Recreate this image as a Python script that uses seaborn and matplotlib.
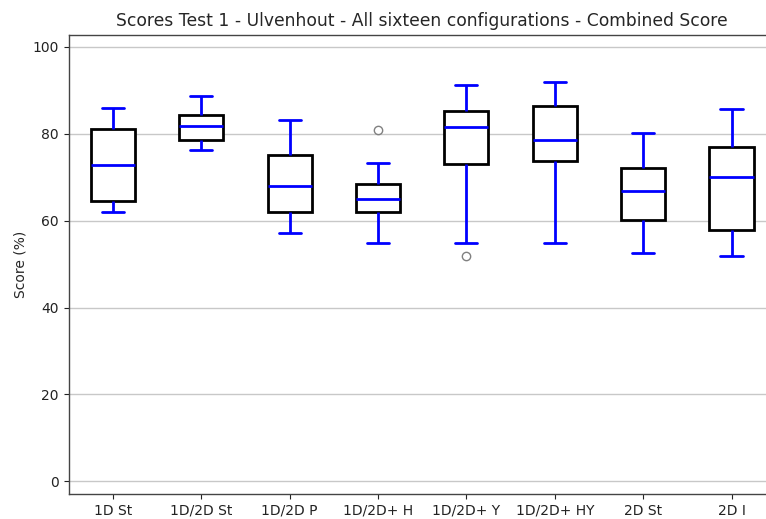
import numpy as np
import pandas as pd
import matplotlib
matplotlib.use("Agg")
import matplotlib.pyplot as plt
import seaborn as sns

# Configurations on the x axis
configs = ["1D St", "1D/2D St", "1D/2D P", "1D/2D+ H",
           "1D/2D+ Y", "1D/2D+ HY", "2D St", "2D I"]

# Five-number summaries of the combined score (%) per configuration
whisker_low = [62.1, 76.3, 57.2, 54.9, 54.9, 54.9, 52.6, 51.9]
q1 = [64.6, 78.5, 62.1, 62.1, 73.0, 73.7, 60.1, 57.8]
median = [72.7, 81.9, 67.9, 65.0, 81.6, 78.6, 66.9, 70.1]
q3 = [81.2, 84.4, 75.0, 68.5, 85.3, 86.3, 72.1, 77.0]
whisker_high = [86.0, 88.7, 83.2, 73.3, 91.3, 91.9, 80.2, 85.7]

# Scores outside the whiskers
outliers = [[], [], [], [80.8], [51.8], [], [], []]

# Nine scores per configuration: with numpy's linear percentiles the 3rd, 5th
# and 7th sorted values are the quartiles, the ends are whiskers / outliers.
rows = []
for i, cfg in enumerate(configs):
    low_out = [v for v in outliers[i] if v < whisker_low[i]]
    high_out = [v for v in outliers[i] if v > whisker_high[i]]
    if low_out:
        vals = low_out + [whisker_low[i], q1[i], median[i], median[i],
                          q3[i], q3[i], whisker_high[i], whisker_high[i]]
    elif high_out:
        vals = [whisker_low[i], q1[i], q1[i], median[i], median[i],
                q3[i], q3[i], whisker_high[i]] + high_out
    else:
        vals = [whisker_low[i], q1[i], q1[i], median[i], median[i],
                q3[i], q3[i], whisker_high[i], whisker_high[i]]
    rows += [{"config": cfg, "score": v} for v in vals]
df = pd.DataFrame(rows)

sns.set_style("white")
plt.rcParams.update({
    "font.family": ["DejaVu Sans"],
    "font.size": 10,
    "xtick.bottom": True,
    "ytick.left": True,
    "xtick.major.size": 3.5,
    "ytick.major.size": 3.5,
    "xtick.color": "#222222",
    "ytick.color": "#222222",
})

fig = plt.figure(figsize=(7.66, 5.19), dpi=100)
ax = fig.add_axes([68.7 / 766, 25 / 519, 707 / 766, 459.3 / 519])

blue = "#0000ff"
sns.boxplot(
    data=df, x="config", y="score", order=configs, ax=ax,
    width=0.5, whis=1.5, linewidth=2,
    boxprops=dict(facecolor="white", edgecolor="black", linewidth=2),
    whiskerprops=dict(color=blue, linewidth=2),
    capprops=dict(color=blue, linewidth=2),
    medianprops=dict(color=blue, linewidth=2),
    flierprops=dict(marker="o", markerfacecolor="none",
                    markeredgecolor="#808080", markersize=6, linewidth=0),
)

ax.set_ylim(-2.9, 102.8)
ax.set_yticks([0, 20, 40, 60, 80, 100])
ax.yaxis.grid(True, color="#c8c8c8", linewidth=1)
ax.xaxis.grid(False)
ax.set_axisbelow(True)
for s in ax.spines.values():
    s.set_color("#444444")
    s.set_linewidth(1)
ax.spines["right"].set_visible(False)
ax.set_xlabel("")
ax.set_ylabel("Score (%)")
ax.set_title("Scores Test 1 - Ulvenhout - All sixteen configurations - Combined Score",
             fontsize=12.3)

fig.savefig("out.png", dpi=100)
